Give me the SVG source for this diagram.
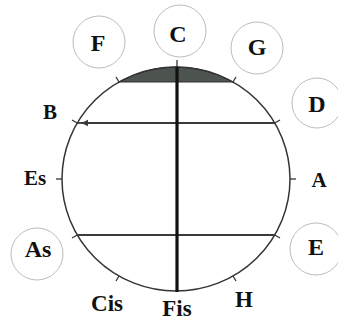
<svg xmlns="http://www.w3.org/2000/svg" width="338" height="322" viewBox="0 0 338 322">
<style>
.lbl{font-family:"Liberation Serif","Times New Roman",serif;font-weight:bold;fill:#111;text-anchor:middle}
.big{font-size:24px}
.mid{font-size:21px}
.bot{font-size:23px}
.ring{fill:#fff;stroke:#bdbdbd;stroke-width:1}
.tick{stroke:#333;stroke-width:1.3;fill:none}
.chord{stroke:#3a3a3a;stroke-width:1.8;fill:none}
</style>
<defs>
<marker id="ah" viewBox="0 0 10 10" refX="9" refY="5" markerWidth="4" markerHeight="4" orient="auto">
<path d="M0,0 L10,5 L0,10 z" fill="#3a3a3a"/>
</marker>
</defs>
<rect width="338" height="322" fill="#fff"/>
<g id="wheel">
<path d="M119,82 A114,112 0 0 1 233,82 Z" fill="#4d544f" stroke="#333" stroke-width="1"/>
<ellipse cx="176" cy="179" rx="114" ry="112" fill="none" stroke="#333" stroke-width="1.5"/>
</g>
<g id="connectors">
<line class="chord" x1="275" y1="123" x2="82" y2="123" marker-end="url(#ah)"/>
<line class="chord" x1="77" y1="123" x2="84" y2="123"/>
<line class="chord" x1="77" y1="235" x2="275" y2="235"/>
<line x1="177" y1="67" x2="177" y2="292" stroke="#111" stroke-width="3.2"/>
<line class="tick" x1="177" y1="67" x2="177" y2="60"/>
<line class="tick" x1="233" y1="82" x2="236" y2="77"/>
<line class="tick" x1="274.7" y1="123" x2="280" y2="120"/>
<line class="tick" x1="290" y1="179" x2="296" y2="179"/>
<line class="tick" x1="274.7" y1="235" x2="280" y2="238"/>
<line class="tick" x1="233" y1="276" x2="236" y2="281"/>
<line class="tick" x1="119" y1="276" x2="116" y2="281"/>
<line class="tick" x1="77.3" y1="235" x2="72" y2="238"/>
<line class="tick" x1="62" y1="179" x2="56" y2="179"/>
<line class="tick" x1="77.3" y1="123" x2="72" y2="120"/>
<line class="tick" x1="119" y1="82" x2="116" y2="77"/>
</g>
<g id="node-C"><circle class="ring" cx="180" cy="31" r="26"/><text class="lbl big" x="178" y="42">C</text></g>
<g id="node-F"><circle class="ring" cx="99" cy="42" r="26"/><text class="lbl big" x="98" y="51">F</text></g>
<g id="node-G"><circle class="ring" cx="257" cy="48" r="26"/><text class="lbl big" x="257" y="55">G</text></g>
<g id="node-D"><circle class="ring" cx="317" cy="103" r="25"/><text class="lbl big" x="317" y="112">D</text></g>
<g id="node-B"><text class="lbl mid" x="50" y="119">B</text></g>
<g id="node-Es"><text class="lbl mid" x="35" y="185">Es</text></g>
<g id="node-A"><text class="lbl mid" x="319" y="187">A</text></g>
<g id="node-As"><circle class="ring" cx="37" cy="254" r="26"/><text class="lbl big" x="38" y="257">As</text></g>
<g id="node-E"><circle class="ring" cx="316" cy="249" r="26"/><text class="lbl big" x="316" y="255">E</text></g>
<g id="node-Cis"><text class="lbl bot" x="107" y="311">Cis</text></g>
<g id="node-Fis"><text class="lbl bot" x="177" y="316">Fis</text></g>
<g id="node-H"><text class="lbl bot" x="244" y="307">H</text></g>
</svg>
